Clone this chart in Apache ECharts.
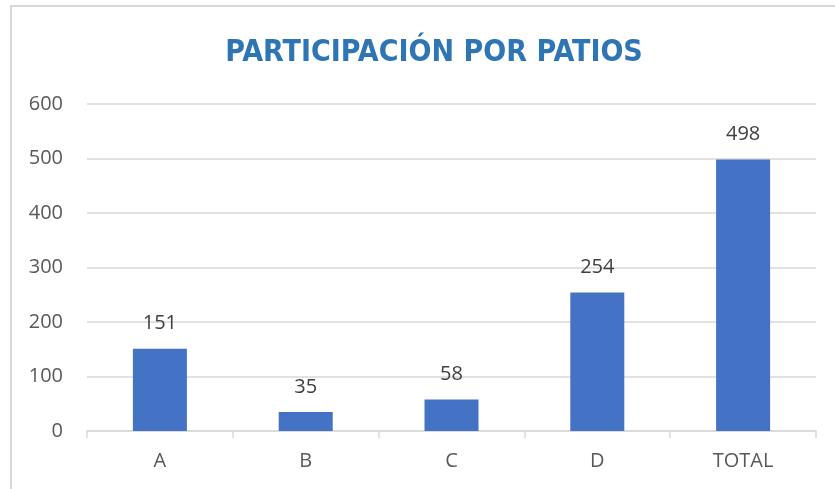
<!DOCTYPE html>
<html>
<head>
<meta charset="utf-8">
<script src="https://cdn.jsdelivr.net/npm/echarts@6/dist/echarts.min.js"></script>
<style>
  html, body { margin: 0; padding: 0; background: #fff; }
  #main { width: 835px; height: 489px; }
</style>
</head>
<body>
<div id="main"></div>
<script>
// participacion por patios
var categories = ['A', 'B', 'C', 'D', 'TOTAL'];
var values = [151, 35, 58, 254, 498];
var yTicks = [0, 100, 200, 300, 400, 500, 600];

var chart = echarts.init(document.getElementById('main'));
chart.setOption({
    animation: false,
    title: {
        text: 'PARTICIPACIÓN POR PATIOS',
        left: 429,
        top: 33,
        textAlign: 'center',
        textStyle: {
            color: '#2E75B6',
            fontSize: 30,
            fontWeight: 'bold',
            fontFamily: 'DejaVu Sans Condensed, Open Sans, sans-serif'
        }
    },
    graphic: [{
        type: 'rect',
        shape: { x: 11, y: 6, width: 900, height: 600 },
        style: { fill: 'none', stroke: '#d9d9d9', lineWidth: 2 },
        silent: true
    }],
    grid: { left: 87, right: 19, top: 104, bottom: 58 },
    xAxis: {
        type: 'category',
        data: categories,
        axisLine: { lineStyle: { color: '#d9d9d9', width: 1.5 } },
        axisTick: { show: true, length: 7, lineStyle: { color: '#d9d9d9', width: 1.5 } },
        axisLabel: { color: '#595959', fontSize: 20, margin: 20, fontFamily: 'Open Sans, sans-serif' }
    },
    yAxis: {
        type: 'value',
        min: yTicks[0],
        max: yTicks[yTicks.length - 1],
        interval: 100,
        axisLine: { show: false },
        axisTick: { show: false },
        axisLabel: { color: '#595959', fontSize: 20, margin: 24, fontFamily: 'Open Sans, sans-serif' },
        splitLine: { lineStyle: { color: '#d9d9d9', width: 1.5 } }
    },
    series: [{
        type: 'bar',
        data: values,
        barWidth: 54,
        itemStyle: { color: '#4472C4' },
        label: {
            show: true,
            position: 'top',
            distance: 15,
            color: '#404040',
            fontSize: 20,
            fontFamily: 'Open Sans, sans-serif'
        }
    }]
});
</script>
</body>
</html>
